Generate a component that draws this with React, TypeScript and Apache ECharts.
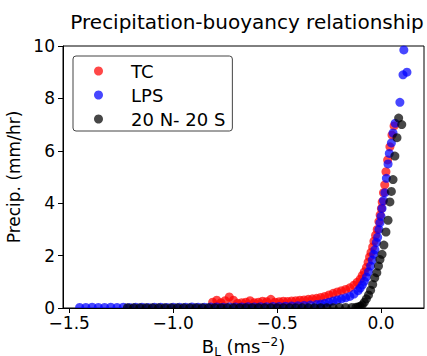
import React, { useEffect, useRef } from "react";
import * as echarts from "echarts";

const FONT = "DejaVu Sans";

const seriesNames = ["TC", "LPS", "20 N- 20 S"];
const xTicks = [-1.5, -1.0, -0.5, 0.0];

const tcPoints: [number, number][] = [
  [-0.81, 0.22], [-0.79, 0.30], [-0.77, 0.20], [-0.75, 0.28], [-0.73, 0.42], [-0.71, 0.30],
  [-0.69, 0.18], [-0.67, 0.20], [-0.65, 0.22], [-0.63, 0.28], [-0.61, 0.20], [-0.59, 0.22],
  [-0.57, 0.26], [-0.55, 0.24], [-0.53, 0.33], [-0.51, 0.22], [-0.49, 0.24], [-0.47, 0.26],
  [-0.45, 0.25], [-0.43, 0.27], [-0.41, 0.28], [-0.39, 0.30], [-0.37, 0.31], [-0.35, 0.33],
  [-0.33, 0.35], [-0.31, 0.37], [-0.29, 0.40], [-0.27, 0.44], [-0.25, 0.50], [-0.23, 0.56],
  [-0.21, 0.61], [-0.19, 0.66], [-0.17, 0.71], [-0.15, 0.77], [-0.13, 0.87], [-0.115, 0.98],
  [-0.10, 1.10], [-0.09, 1.24], [-0.08, 1.38], [-0.07, 1.55], [-0.062, 1.75], [-0.055, 1.95],
  [-0.048, 2.12], [-0.04, 2.33], [-0.034, 2.55], [-0.026, 2.78], [-0.018, 3.0], [-0.01, 3.3],
  [-0.004, 3.55], [0.002, 3.8], [0.006, 4.05], [0.012, 4.4], [0.018, 4.7], [0.024, 5.2],
  [0.032, 5.65], [0.043, 6.15], [0.053, 6.6], [0.063, 6.95],
];

const lpsPoints: [number, number][] = [
  [-1.45, 0.02], [-1.42, 0.02], [-1.39, 0.03], [-1.36, 0.02], [-1.33, 0.02], [-1.30, 0.03],
  [-1.27, 0.02], [-1.24, 0.03], [-1.21, 0.02], [-1.18, 0.03], [-1.15, 0.03], [-1.12, 0.02],
  [-1.09, 0.03], [-1.06, 0.03], [-1.03, 0.02], [-1.00, 0.03], [-0.97, 0.03], [-0.94, 0.03],
  [-0.91, 0.04], [-0.88, 0.03], [-0.85, 0.03], [-0.82, 0.04], [-0.79, 0.04], [-0.76, 0.03],
  [-0.73, 0.04], [-0.70, 0.04], [-0.67, 0.04], [-0.64, 0.05], [-0.61, 0.04], [-0.58, 0.05],
  [-0.55, 0.05], [-0.52, 0.06], [-0.49, 0.06], [-0.46, 0.07], [-0.43, 0.08], [-0.40, 0.09],
  [-0.37, 0.10], [-0.34, 0.11], [-0.31, 0.13], [-0.29, 0.15], [-0.27, 0.18], [-0.25, 0.22],
  [-0.23, 0.27], [-0.21, 0.31], [-0.19, 0.35], [-0.17, 0.39], [-0.15, 0.44], [-0.13, 0.53],
  [-0.11, 0.66], [-0.10, 0.76], [-0.09, 0.88], [-0.08, 1.02], [-0.07, 1.18], [-0.06, 1.38],
  [-0.05, 1.6], [-0.042, 1.83], [-0.035, 2.05], [-0.029, 2.22], [-0.022, 2.5], [-0.016, 2.7],
  [-0.01, 3.0], [-0.005, 3.25], [0.0, 3.5], [0.005, 3.8], [0.012, 4.1], [0.019, 4.4],
  [0.026, 4.95], [0.034, 5.5], [0.04, 5.9], [0.05, 6.3], [0.058, 6.68], [0.068, 7.05],
  [0.091, 7.85], [0.106, 8.9], [0.125, 9.0], [0.11, 9.85],
];

const eqPoints: [number, number][] = [
  [-1.22, 0.01], [-1.19, 0.01], [-1.16, 0.01], [-1.13, 0.01], [-1.10, 0.01], [-1.07, 0.01],
  [-1.04, 0.01], [-1.01, 0.01], [-0.98, 0.01], [-0.95, 0.01], [-0.92, 0.01], [-0.89, 0.01],
  [-0.86, 0.01], [-0.83, 0.01], [-0.80, 0.01], [-0.77, 0.01], [-0.74, 0.01], [-0.71, 0.01],
  [-0.68, 0.01], [-0.65, 0.01], [-0.62, 0.01], [-0.59, 0.01], [-0.56, 0.01], [-0.53, 0.01],
  [-0.50, 0.01], [-0.47, 0.01], [-0.44, 0.01], [-0.41, 0.01], [-0.38, 0.01], [-0.35, 0.01],
  [-0.32, 0.01], [-0.29, 0.01], [-0.26, 0.01], [-0.23, 0.01], [-0.20, 0.02], [-0.17, 0.02],
  [-0.14, 0.02], [-0.12, 0.03], [-0.11, 0.04], [-0.10, 0.07], [-0.09, 0.12], [-0.08, 0.22],
  [-0.07, 0.35], [-0.06, 0.5], [-0.05, 0.68], [-0.04, 0.9], [-0.03, 1.15], [-0.02, 1.35],
  [-0.012, 1.6], [-0.005, 1.85], [0.005, 2.05], [0.014, 2.4], [0.024, 2.9], [0.034, 3.35],
  [0.043, 4.05], [0.05, 4.45], [0.058, 4.9], [0.067, 5.8], [0.077, 6.5], [0.085, 7.25],
  [0.1, 7.0],
];

const colors = ["#ff0000", "#0000ff", "#000000"];

export default function App() {
  const ref = useRef<HTMLDivElement>(null);
  useEffect(() => {
    const chart = echarts.init(ref.current!, null, { renderer: "svg" });
    const fmt = (v: number) => v.toFixed(1).replace("-", "\u2212");
    chart.setOption({
      animation: false,
      textStyle: { fontFamily: FONT },
      title: {
        text: "Precipitation-buoyancy relationship",
        left: 242,
        top: 7,
        textAlign: "center",
        textStyle: { fontSize: 20, fontWeight: "normal", color: "#000", fontFamily: FONT },
      },
      grid: {
        left: 63, right: 3, top: 46, bottom: 48,
        outerBoundsMode: "none",
        containLabel: false,
        show: true, borderColor: "#000", borderWidth: 1, backgroundColor: "transparent",
      },
      legend: {
        orient: "vertical",
        left: 73,
        top: 56,
        data: seriesNames,
        icon: "circle",
        itemWidth: 9,
        itemHeight: 9,
        itemGap: 4,
        padding: [5, 7, 2, 21],
        borderColor: "#444",
        borderWidth: 1,
        borderRadius: 3,
        textStyle: { fontSize: 18, color: "#000", padding: [0, 0, 0, 23], lineHeight: 20, fontFamily: FONT },
      },
      xAxis: {
        type: "value",
        min: -1.53,
        max: 0.207,
        z: 10,
        axisLine: { onZero: false, lineStyle: { color: "#000", width: 1 } },
        axisTick: { length: 5, customValues: xTicks, lineStyle: { color: "#000" } },
        axisLabel: { customValues: xTicks, formatter: fmt, fontSize: 17, color: "#000", margin: 6, fontFamily: FONT },
        splitLine: { show: false },
        name: "{b|B}{s|L}{b| (ms}{p|\u22122}{b|)}",
        nameLocation: "middle",
        nameGap: 21,
        nameTextStyle: {
          fontSize: 18,
          color: "#000",
          rich: {
            b: { fontSize: 18, color: "#000", lineHeight: 22, verticalAlign: "middle", fontFamily: FONT },
            s: { fontSize: 12, color: "#000", lineHeight: 12, verticalAlign: "bottom", fontFamily: FONT },
            p: { fontSize: 12, color: "#000", lineHeight: 12, verticalAlign: "top", fontFamily: FONT },
          },
        },
      },
      yAxis: {
        type: "value",
        min: 0,
        max: 10,
        interval: 2,
        z: 10,
        axisLine: { show: true, onZero: false, lineStyle: { color: "#000", width: 1 } },
        axisTick: { show: true, length: 5, lineStyle: { color: "#000" } },
        axisLabel: { fontSize: 17, color: "#000", margin: 8, fontFamily: FONT },
        splitLine: { show: false },
        name: "Precip. (mm/hr)",
        nameLocation: "middle",
        nameGap: 38,
        nameTextStyle: { fontSize: 17, color: "#000", fontFamily: FONT },
      },
      graphic: [
        {
          type: "rect",
          z: 5,
          shape: { x: 40, y: 309, width: 387, height: 12 },
          style: { fill: "#fff" },
        },
      ],
      series: [tcPoints, lpsPoints, eqPoints].map((d, i) => ({
        type: "scatter",
        name: seriesNames[i],
        data: d,
        symbolSize: 9,
        itemStyle: { color: colors[i], opacity: 0.72 },
      })),
    });
    return () => chart.dispose();
  }, []);
  return <div ref={ref} style={{ width: 427, height: 356, position: "absolute", left: 0, top: 0 }} />;
}
